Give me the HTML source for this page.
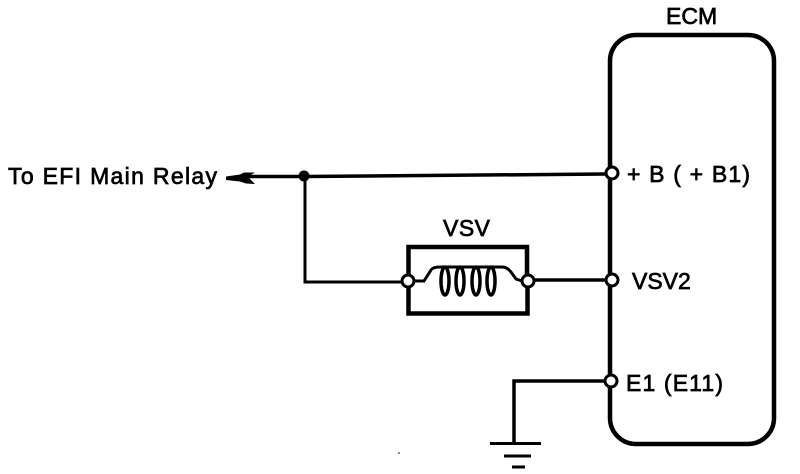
<!DOCTYPE html>
<html>
<head>
<meta charset="utf-8">
<style>
html,body{margin:0;padding:0;background:#fff;width:800px;height:474px;overflow:hidden}
svg{display:block}
text{font-family:"Liberation Sans",sans-serif;font-size:23px;fill:#000;stroke:#000;stroke-width:.7}
</style>
</head>
<body>
<svg width="800" height="474" viewBox="0 0 800 474" xmlns="http://www.w3.org/2000/svg">
<g fill="none" stroke="#000" stroke-linecap="butt">
  <!-- ECM box -->
  <rect x="610" y="35" width="164" height="409" rx="26" ry="26" stroke-width="4.500"/>
  <!-- wires -->
  <path d="M248 176.500L305 176.500L606 174" stroke-width="3.500"/>
  <path d="M305 176V282H404" stroke-width="3"/>
  <path d="M534 280H606" stroke-width="3.500"/>
  <path d="M605 381H514V443" stroke-width="3.500"/>
  <!-- VSV box -->
  <path d="M408.500 275V247H527V275M408.500 287V313.500H527.500V287" stroke-width="4.500"/>
  <!-- coil -->
  <path d="M414 281H424L431 270Q433 267 440 267H502Q507 267 511 272L516 279L522 281" stroke-width="3"/>
  <ellipse cx="445" cy="281" rx="4" ry="14" stroke-width="3.500"/>
  <ellipse cx="460" cy="281" rx="4" ry="14" stroke-width="3.500"/>
  <ellipse cx="476" cy="281" rx="4" ry="14" stroke-width="3.500"/>
  <ellipse cx="491" cy="281" rx="4" ry="14" stroke-width="3.500"/>
  <!-- ground -->
  <path d="M490 443.500H541" stroke-width="3"/>
  <path d="M504 456H531" stroke-width="3"/>
  <path d="M512 467H525" stroke-width="3"/>
  <!-- terminals -->
  <g fill="#fff" stroke-width="3">
    <circle cx="612" cy="173" r="6"/>
    <circle cx="612" cy="280" r="6"/>
    <circle cx="611" cy="381" r="6"/>
    <circle cx="408" cy="281" r="6"/>
    <circle cx="528" cy="281" r="6"/>
  </g>
</g>
<!-- junction -->
<circle cx="304" cy="176" r="5.500" fill="#000"/>
<!-- arrow -->
<path d="M226 176.500L240 174.500L244 172.500L255 172.500L249 176L250 179L255 184L246 183.500L240 181.500L226 180Z" fill="#000"/>
<!-- labels -->
<text x="8" y="184" textLength="209" lengthAdjust="spacing">To EFI Main Relay</text>
<text x="666" y="24">ECM</text>
<text x="443" y="236" textLength="47" lengthAdjust="spacing">VSV</text>
<text x="627" y="182" textLength="123" lengthAdjust="spacing">+ B  ( + B1)</text>
<text x="632" y="289">VSV2</text>
<text x="626" y="391" textLength="97" lengthAdjust="spacing">E1 (E11)</text>
<circle cx="399" cy="453" r=".8" fill="#000"/>
</svg>
</body>
</html>
